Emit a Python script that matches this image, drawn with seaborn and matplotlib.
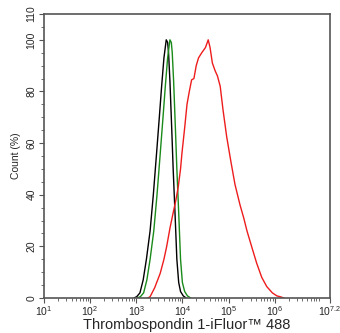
import numpy as np
import pandas as pd
import matplotlib
matplotlib.use("Agg")
import matplotlib.pyplot as plt
import matplotlib.ticker as mticker
import seaborn as sns

# histogram outlines (log10 intensity, count %)
black_log = [2.95, 3.01, 3.08, 3.15, 3.22, 3.30, 3.37, 3.44, 3.50, 3.55, 3.60, 3.65,
             3.68, 3.70, 3.73, 3.77, 3.80, 3.84, 3.88, 3.92, 3.96, 4.02, 4.08]
black_cnt = [0, 0.5, 2, 7, 15, 26, 40, 56, 70, 82, 93, 100,
             99, 95, 84, 65, 50, 33, 15, 6, 2.5, 0.8, 0]

green_log = [3.02, 3.09, 3.16, 3.23, 3.30, 3.38, 3.45, 3.52, 3.58, 3.63, 3.68, 3.73,
             3.76, 3.78, 3.81, 3.85, 3.88, 3.92, 3.96, 4.00, 4.05, 4.11, 4.18]
green_cnt = [0, 0.5, 2, 7, 15, 26, 40, 56, 70, 82, 93, 100,
             99, 95, 84, 65, 50, 33, 15, 6, 2.5, 0.8, 0]

red_log = [3.25, 3.30, 3.40, 3.52, 3.60, 3.66, 3.73, 3.80, 3.86, 3.91, 3.96, 3.99,
           4.05, 4.10, 4.15, 4.20, 4.25, 4.30, 4.35, 4.42, 4.50, 4.56, 4.60,
           4.65, 4.71, 4.76, 4.82, 4.88, 4.96, 5.05, 5.14, 5.25, 5.33, 5.40,
           5.50, 5.61, 5.72, 5.83, 5.95, 6.05, 6.12, 6.20]
red_cnt = [0, 0.5, 4, 9.6, 15, 20, 27, 33, 38, 43, 50, 56,
           66, 75, 80, 84.5, 85, 90, 93, 95, 97, 100, 97,
           91, 88, 86, 82, 73, 62.5, 53, 44, 36, 31, 26,
           20, 13.5, 8, 4.4, 2, 0.8, 0.5, 0]

series = [("black", black_log, black_cnt),
          ("green", green_log, green_cnt),
          ("red", red_log, red_cnt)]
colors = {"black": "#000000", "green": "#1a8a1a", "red": "#ee1c1c"}

xtick_exp = [1, 2, 3, 4, 5, 6, 7.2]
xtick_labels = ["$10^{1}$", "$10^{2}$", "$10^{3}$", "$10^{4}$", "$10^{5}$", "$10^{6}$", "$10^{7.2}$"]
yticks = [0, 20, 40, 60, 80, 100, 110]

rows = []
for name, lg, cnt in series:
    for i, (l, c) in enumerate(zip(lg, cnt)):
        rows.append({"sample": name, "order": i, "intensity": 10 ** l, "count": c})
df = pd.DataFrame(rows)

sns.set_style("ticks")
plt.rcParams["font.family"] = ["Liberation Sans", "DejaVu Sans"]
plt.rcParams["mathtext.fontset"] = "custom"
plt.rcParams["mathtext.rm"] = "Liberation Sans"
plt.rcParams["mathtext.it"] = "Liberation Sans"

fig = plt.figure(figsize=(3.4, 3.33), dpi=100)
ax = fig.add_axes([44 / 340, 35 / 333, 286 / 340, 284 / 333])

sns.lineplot(data=df, x="intensity", y="count", hue="sample", palette=colors,
             units="sample", estimator=None, sort=False, legend=False,
             linewidth=1.0, ax=ax)

ax.set_xscale("log")
ax.set_xlim(10 ** 1, 10 ** 7.2)
ax.set_ylim(0, 110)
ax.set_xticks([10 ** e for e in xtick_exp])
ax.set_xticklabels(xtick_labels)
ax.xaxis.set_minor_locator(mticker.LogLocator(base=10, subs=np.arange(2, 10), numticks=20))
ax.xaxis.set_minor_formatter(mticker.NullFormatter())
ax.set_yticks(yticks)
ax.yaxis.set_minor_locator(mticker.MultipleLocator(5))

for s in ax.spines.values():
    s.set_visible(True)
    s.set_color("#555555")
    s.set_linewidth(1.2)

ax.tick_params(axis="both", which="major", direction="out", length=3.5, width=0.8,
               color="#555555", labelsize=7.5, pad=1)
ax.tick_params(axis="both", which="minor", direction="out", length=2, width=0.6,
               color="#555555")
ax.tick_params(axis="y", labelrotation=90, pad=2)
for lab in ax.get_yticklabels():
    lab.set_va("center")

ax.set_xlabel("Thrombospondin 1-iFluor™ 488", fontsize=10.5)
ax.xaxis.set_label_coords(0.5, -0.072)
ax.set_ylabel("Count (%)", fontsize=7.5, labelpad=4)

fig.savefig("out.png", dpi=100)
